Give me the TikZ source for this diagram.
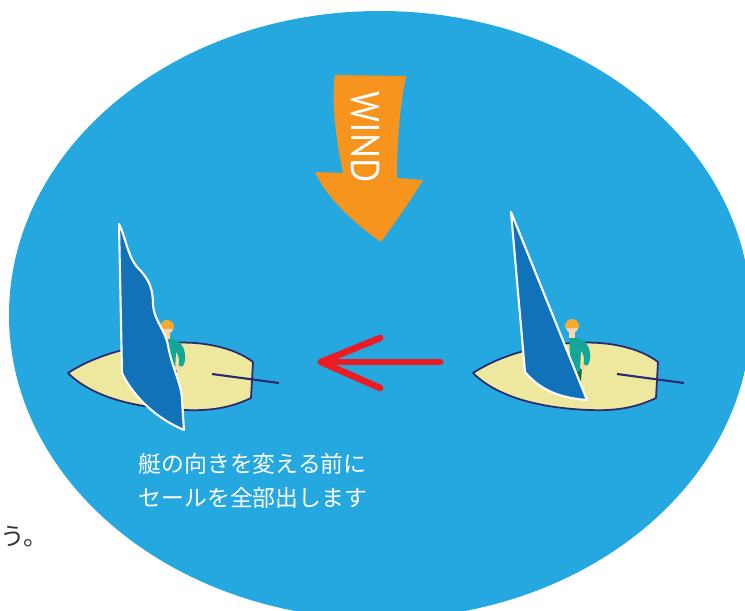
\documentclass[tikz,border=0pt]{standalone}
\usepackage{fontspec}
\setmainfont{PT Sans}
\newfontfamily\jpfont{Noto Sans CJK JP}

\definecolor{seablue}{RGB}{37,168,224}
\definecolor{windorange}{RGB}{247,148,30}
\definecolor{turnred}{RGB}{237,28,36}
\definecolor{sailblue}{RGB}{17,114,186}
\definecolor{hullyellow}{RGB}{237,232,157}
\definecolor{hullnavy}{RGB}{43,42,110}
\definecolor{shirtteal}{RGB}{20,166,150}
\definecolor{pantsgreen}{RGB}{27,110,56}
\definecolor{skin}{RGB}{252,214,170}
\definecolor{hair}{RGB}{248,170,50}
\definecolor{inkgray}{RGB}{50,50,50}

% hull outline, drawn at the left boat's place
\newcommand\hullpath{(68,373) .. controls (100,352) and (150,340) .. (195,343)
  .. controls (220,345) and (240,352) .. (253,362) -- (251,398)
  .. controls (230,408) and (210,411) .. (185,410)
  .. controls (130,408) and (90,395) .. (68,373) -- cycle}

% crew member, #1 is the centre of the head
\newcommand\sailor[1]{%
  \begin{scope}[shift={#1}]
    \fill[pantsgreen] (2,40) -- (10,42) -- (9,55) -- (3,55) -- cycle;
    \fill[shirtteal] (-3,11) .. controls (5,10) and (13,14) .. (16,20)
      .. controls (19,27) and (19,34) .. (16,39) -- (11,40)
      .. controls (13,34) and (12,28) .. (9,25) -- (8,45) -- (-1,47) -- cycle;
    \fill[skin] (11,41) circle (3);
    \fill[skin] (0,1) circle (6);
    \fill[skin] (-3,4) rectangle (3,12);
    \begin{scope}
      \clip (-8,-8) rectangle (8,1);
      \fill[hair] (0,0) circle (7);
    \end{scope}
  \end{scope}}

\begin{document}
\begin{tikzpicture}[x=0.02cm, y=-0.02cm]
  \tikzstyle{sea} = [fill=seablue]
  \tikzstyle{hull} = [fill=hullyellow, draw=hullnavy, line width=1pt, line join=round]
  \tikzstyle{tiller} = [draw=hullnavy, line width=1.2pt]
  \tikzstyle{sail} = [fill=sailblue, draw=white, line width=1.2pt, line join=round]
  \tikzstyle{turn} = [draw=turnred, line width=3.8pt, line cap=round, line join=round]
  \tikzstyle{caption} = [text=white, align=left, inner sep=0pt,
    font=\jpfont\fontsize{13}{19.4}\selectfont]

  \useasboundingbox (0,0) rectangle (745,610);
  \clip (0,0) rectangle (745,610);

  % Sea
  \path[sea] (380,315) ellipse [x radius=371, y radius=304];

  % Wind arrow
  \path[fill=windorange] (335,75) -- (406,76)
    .. controls (400,105) and (397,140) .. (397,178) -- (423,180)
    .. controls (410,202) and (395,222) .. (381,242)
    .. controls (352,222) and (325,195) .. (315,172) -- (343,173)
    .. controls (336,140) and (331,100) .. (335,75) -- cycle;
  \node[text=white, rotate=-90, inner sep=0pt, font=\fontsize{22.8}{22.8}\selectfont]
    (wind) at (366,137) {\scalebox{0.93}[1]{WIND}};

  % Left boat, sail let out
  \path[hull] \hullpath;
  \draw[tiller] (212,374) -- (279,383);
  \sailor{(167,327)}
  \path[sail] (119,224) .. controls (125,235) and (128,258) .. (138,268)
    .. controls (150,280) and (153,290) .. (153,305)
    .. controls (154,320) and (165,330) .. (168,345)
    .. controls (171,365) and (182,385) .. (182,400) -- (184,430)
    .. controls (160,420) and (135,400) .. (122,373) -- cycle;

  % Right boat, sail pulled in
  \begin{scope}[xshift=405*0.02cm]
    \path[hull] \hullpath;
    \draw[tiller] (212,374) -- (279,383);
  \end{scope}
  \sailor{(572,326)}
  \path[sail] (511,212) -- (525,372)
    .. controls (540,390) and (560,398) .. (587,400) -- cycle;

  % Turning arrow
  \coordinate (from) at (440,362);
  \coordinate (to) at (321,362);
  \coordinate (barbup) at (380,338);
  \coordinate (barbdown) at (380,388);
  \draw[turn] (from) -- (to);
  \draw[turn] (barbup) -- (to) -- (barbdown);

  % Texts
  \node[caption] (note) at (253,481) {艇の向きを変える前に\\セールを全部出します};
  \node[text=inkgray, anchor=west, inner sep=0pt,
    font=\jpfont\fontsize{14}{14}\selectfont] (prev) at (0,537) {う。};
\end{tikzpicture}
\end{document}
